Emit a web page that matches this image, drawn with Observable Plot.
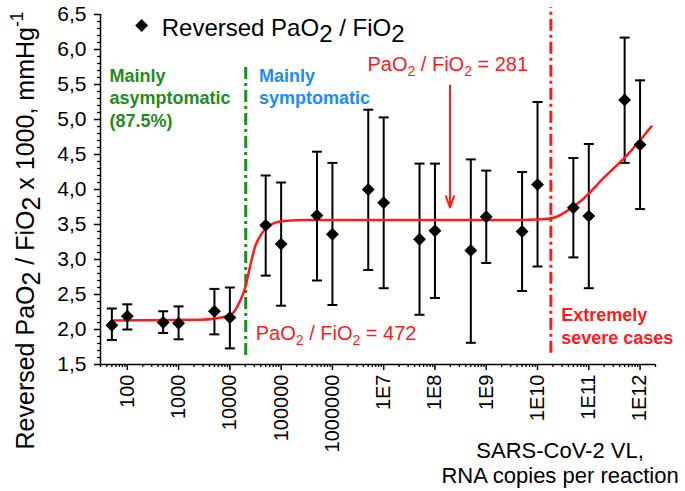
<!DOCTYPE html>
<html><head><meta charset="utf-8">
<script src="https://cdn.jsdelivr.net/npm/d3@7"></script>
<script src="https://cdn.jsdelivr.net/npm/@observablehq/plot@0.6"></script>
<style>html,body{margin:0;padding:0;background:#fff}</style>
</head><body><div id="chart"></div>
<script>
// ---- data ----
const viralLoad = [50, 100, 500, 1000, 5000, 1e4, 5e4, 1e5, 5e5, 1e6, 5e6, 1e7, 5e7, 1e8, 5e8, 1e9, 5e9, 1e10, 5e10, 1e11, 5e11, 1e12];
const ratioMean = [2.06, 2.19, 2.10, 2.09, 2.26, 2.17, 3.49, 3.22, 3.63, 3.36, 4.00, 3.81, 3.29, 3.41, 3.13, 3.61, 3.40, 4.07, 3.74, 3.62, 5.28, 4.64];
const ratioHigh = [2.30, 2.36, 2.26, 2.33, 2.58, 2.60, 4.20, 4.10, 4.54, 4.38, 5.14, 5.03, 4.37, 4.37, 4.43, 4.27, 4.25, 5.25, 4.45, 4.65, 6.17, 5.56];
const ratioLow  = [1.85, 2.00, 1.95, 1.86, 1.93, 1.73, 2.77, 2.34, 2.70, 2.35, 2.85, 2.59, 2.21, 2.45, 1.81, 2.95, 2.55, 2.90, 3.03, 2.59, 4.38, 3.72];

const fitVL    = [50, 2630, 1e4, 15850, 19950, 24550, 30900, 41700, 60300, 112200, 316000, 4.79e9, 1e10, 2.14e10, 3.89e10, 7.08e10, 2.04e11, 5.89e11, 1.66e12];
const fitRatio = [2.13, 2.14, 2.20, 2.41, 2.60, 2.89, 3.18, 3.37, 3.49, 3.55, 3.565, 3.565, 3.57, 3.60, 3.70, 3.84, 4.18, 4.51, 4.90];

const xMajor = [1e2, 1e3, 1e4, 1e5, 1e6, 1e7, 1e8, 1e9, 1e10, 1e11, 1e12];
const xLabels = ["100", "1000", "10000", "100000", "1000000", "1E7", "1E8", "1E9", "1E10", "1E11", "1E12"];
const yTicks = [1.5, 2.0, 2.5, 3.0, 3.5, 4.0, 4.5, 5.0, 5.5, 6.0, 6.5];

const xDomain = [30, 2e12];
const yDomain = [1.5, 6.5];

const thresholdAsym = 2.04e4;   // green dash-dot
const thresholdSevere = 1.82e10; // red dash-dot

// ---- derived tick sets ----
const xMinor = [];
for (let e = 1; e <= 12; e++) for (let m = 2; m <= 9; m++) {
  const v = m * Math.pow(10, e);
  if (v >= xDomain[0] && v <= xDomain[1] * 1.0001) xMinor.push(v);
}
const yMinor = [];
for (let k = 15; k <= 65; k++) if (k % 5 !== 0) yMinor.push(k / 10);

const pts = viralLoad.map((v, i) => ({vl: v, mean: ratioMean[i], hi: ratioHigh[i], lo: ratioLow[i]}));
const fit = fitVL.map((v, i) => ({vl: v, r: fitRatio[i]}));

const RED = "#ff1a1a", GREEN = "#1f8b1f", BLUE = "#1e8cf5";
const FONT = "'Liberation Sans', Arial, Helvetica, sans-serif";
const cap = {draw(ctx) { ctx.moveTo(-5, 0); ctx.lineTo(5, 0); }};

const note = (x, y, t, o) => Plot.text([{x, y, t}], {x: "x", y: "y", text: "t", textAnchor: "start", ...o});

const plot = Plot.plot({
  width: 685, height: 491,
  marginLeft: 100, marginRight: 30, marginTop: 14, marginBottom: 127,
  x: {type: "log", domain: xDomain},
  y: {domain: yDomain},
  style: {fontFamily: FONT, background: "white", color: "black", overflow: "visible"},
  marks: [
    // axes
    Plot.axisY({ticks: yTicks, tickFormat: d => d.toFixed(1).replace(".", ","), tickSize: 6, tickPadding: 8, fontSize: 21, label: null, strokeWidth: 1.5}),
    Plot.axisY({ticks: yMinor, tickSize: 3, tickFormat: () => "", label: null, strokeWidth: 1.3}),
    Plot.axisX({ticks: xMajor, tickFormat: d => xLabels[xMajor.indexOf(d)], tickRotate: -90, tickSize: 6, tickPadding: 4, fontSize: 20, label: null, strokeWidth: 1.5}),
    Plot.axisX({ticks: xMinor, tickSize: 3, tickFormat: () => "", label: null, strokeWidth: 1.3}),
    Plot.ruleX([xDomain[0]], {strokeWidth: 1.5}),
    Plot.ruleY([yDomain[0]], {strokeWidth: 1.5}),

    // threshold lines
    Plot.ruleX([thresholdAsym], {y1: 1.63, y2: 5.77, stroke: GREEN, strokeWidth: 3, strokeDasharray: "12,4,3,4"}),
    Plot.ruleX([thresholdSevere], {y1: 1.66, y2: 6.6, stroke: RED, strokeWidth: 3, strokeDasharray: "12,4,3,4"}),

    // error bars
    Plot.ruleX(pts, {x: "vl", y1: "lo", y2: "hi", strokeWidth: 2}),
    Plot.dot(pts, {x: "vl", y: "hi", symbol: cap, r: 3, stroke: "black", strokeWidth: 2, fill: "none"}),
    Plot.dot(pts, {x: "vl", y: "lo", symbol: cap, r: 3, stroke: "black", strokeWidth: 2, fill: "none"}),

    // fit
    Plot.line(fit, {x: "vl", y: "r", stroke: RED, strokeWidth: 2.5, curve: "monotone-x"}),

    // points
    Plot.dot(pts, {x: "vl", y: "mean", symbol: "diamond2", r: 5.8, fill: "black", stroke: "none"}),

    // legend
    Plot.dot([{x: 190, y: 6.343}], {x: "x", y: "y", symbol: "diamond2", r: 5.8, fill: "black"}),
    note(469, 6.2, "Reversed PaO__{2} / FiO__{2}", {fontSize: 24, lineAnchor: "bottom"}),

    // annotations
    note(45, 5.769, "Mainly\nasymptomatic\n(87.5%)", {fill: GREEN, fontSize: 18, fontWeight: "bold", lineAnchor: "top", lineHeight: 1.25}),
    note(37070, 5.769, "Mainly\nsymptomatic", {fill: BLUE, fontSize: 18, fontWeight: "bold", lineAnchor: "top", lineHeight: 1.25}),
    note(4.82e6, 5.7, "PaO_{2} / FiO_{2} = 281", {fill: RED, fontSize: 20, lineAnchor: "bottom"}),
    note(32000, 1.857, "PaO_{2} / FiO_{2} = 472", {fill: RED, fontSize: 20, lineAnchor: "bottom"}),
    note(2.89e10, 2.354, "Extremely\nsevere cases", {fill: RED, fontSize: 18, fontWeight: "bold", lineAnchor: "top", lineHeight: 1.28}),
    Plot.arrow([{x: 1.96e8, y1: 5.486, y2: 3.743}], {x1: "x", x2: "x", y1: "y1", y2: "y2", stroke: RED, strokeWidth: 2, headLength: 9, headAngle: 40}),

    // axis titles
    Plot.text(["Reversed PaO__{2} / FiO__{2} x 1000, mmHg^{-1}"], {frameAnchor: "left", rotate: -90, dx: -67, dy: 41, fontSize: 25, lineAnchor: "bottom", textAnchor: "middle"}),
    Plot.text(["SARS-CoV-2 VL,\nRNA copies per reaction"], {x: [2.75e10], frameAnchor: "bottom", dy: 118, fontSize: 22, lineAnchor: "bottom", lineHeight: 1.136, textAnchor: "middle"})
  ]
});

document.getElementById("chart").appendChild(plot);

// sub/superscript markup -> tspans
function richify(svg) {
  svg.querySelectorAll("text").forEach(t => {
    const s = t.textContent;
    if (!/[_^]\{/.test(s)) return;
    const target = (t.children.length === 1 && t.firstElementChild.tagName === "tspan") ? t.firstElementChild : t;
    const fs = parseFloat(getComputedStyle(t).fontSize) || 16;
    const parts = s.split(/(__\{[^}]*\}|_\{[^}]*\}|\^\{[^}]*\})/).filter(p => p !== "");
    target.textContent = "";
    let cur = 0;
    for (const p of parts) {
      let txt = p, shift = 0, size = null;
      if (p.startsWith("__{")) { txt = p.slice(3, -1); shift = 0.25 * fs; }
      else if (p.startsWith("_{")) { txt = p.slice(2, -1); shift = 0.28 * fs; size = 0.7 * fs; }
      else if (p.startsWith("^{")) { txt = p.slice(2, -1); shift = -0.42 * fs; size = 0.7 * fs; }
      const ts = document.createElementNS("http://www.w3.org/2000/svg", "tspan");
      if (shift - cur !== 0) ts.setAttribute("dy", (shift - cur).toFixed(2));
      if (size) ts.setAttribute("font-size", size.toFixed(1));
      ts.textContent = txt;
      target.appendChild(ts);
      cur = shift;
    }
  });
}
richify(plot);
</script></body></html>
